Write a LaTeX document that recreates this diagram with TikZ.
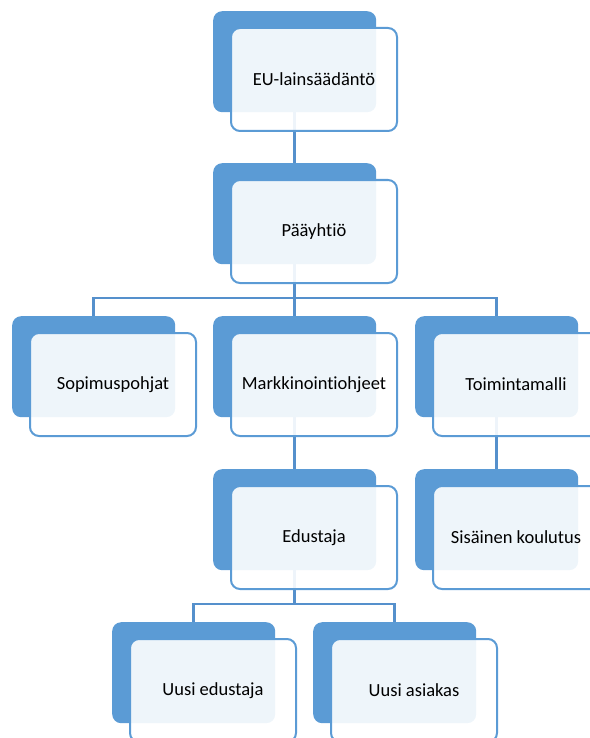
\documentclass[tikz,border=0pt]{standalone}
\usepackage{fontspec}
\setmainfont[Ligatures={NoCommon,NoRequired,NoContextual}]{Carlito}
\usetikzlibrary{calc}
\pgfdeclarelayer{background}
\pgfsetlayers{background,main}
\definecolor{boxblue}{HTML}{5B9BD5}
\definecolor{lineblue}{HTML}{5590CC}
\tikzset{
  backbox/.style={anchor=north west, fill=boxblue, draw=none, rounded corners=9pt,
    minimum width=163pt, minimum height=101pt, inner sep=0pt},
  frontbox/.style={anchor=north west, fill=white, fill opacity=0.9, text opacity=1,
    draw=boxblue, line width=2pt, rounded corners=9pt,
    minimum width=166pt, minimum height=103pt, inner sep=0pt,
    font=\fontsize{18.5}{22}\selectfont, text=black},
  conn/.style={draw=lineblue, line width=2.5pt}
}
\newcommand{\orgunit}[4]{%
  \node[backbox] (#1B) at (#2,#3) {};
  \node[frontbox] (#1) at ($(#1B.north west)+(17,16)$) {#4};
}
\begin{document}
\begin{tikzpicture}[x=1pt,y=-1pt]
\useasboundingbox (0,0) rectangle (589,738);
\orgunit{eu}{213}{11}{EU-lainsäädäntö}
\orgunit{paa}{213}{163}{Pääyhtiö}
\orgunit{sop}{12}{316}{Sopimuspohjat}
\orgunit{mark}{213}{316}{Markkinointiohjeet}
\orgunit{toim}{415}{316}{Toimintamalli}
\orgunit{edu}{213}{469}{Edustaja}
\orgunit{sis}{415}{469}{Sisäinen koulutus}
\orgunit{ue}{112}{622}{Uusi edustaja}
\orgunit{ua}{313}{622}{Uusi asiakas}
\begin{pgfonlayer}{background}
  \draw[conn] (euB.south) -- (paaB.north);
  \draw[conn] (paaB.south) -- (markB.north);
  \draw[conn] (sopB.north) -- ++(0,-18) -| (toimB.north);
  \draw[conn] (markB.south) -- (eduB.north);
  \draw[conn] (toimB.south) -- (sisB.north);
  \draw[conn] (eduB.south) -- ++(0,34);
  \draw[conn] (ueB.north) -- ++(0,-18) -| (uaB.north);
\end{pgfonlayer}
\end{tikzpicture}
\end{document}
